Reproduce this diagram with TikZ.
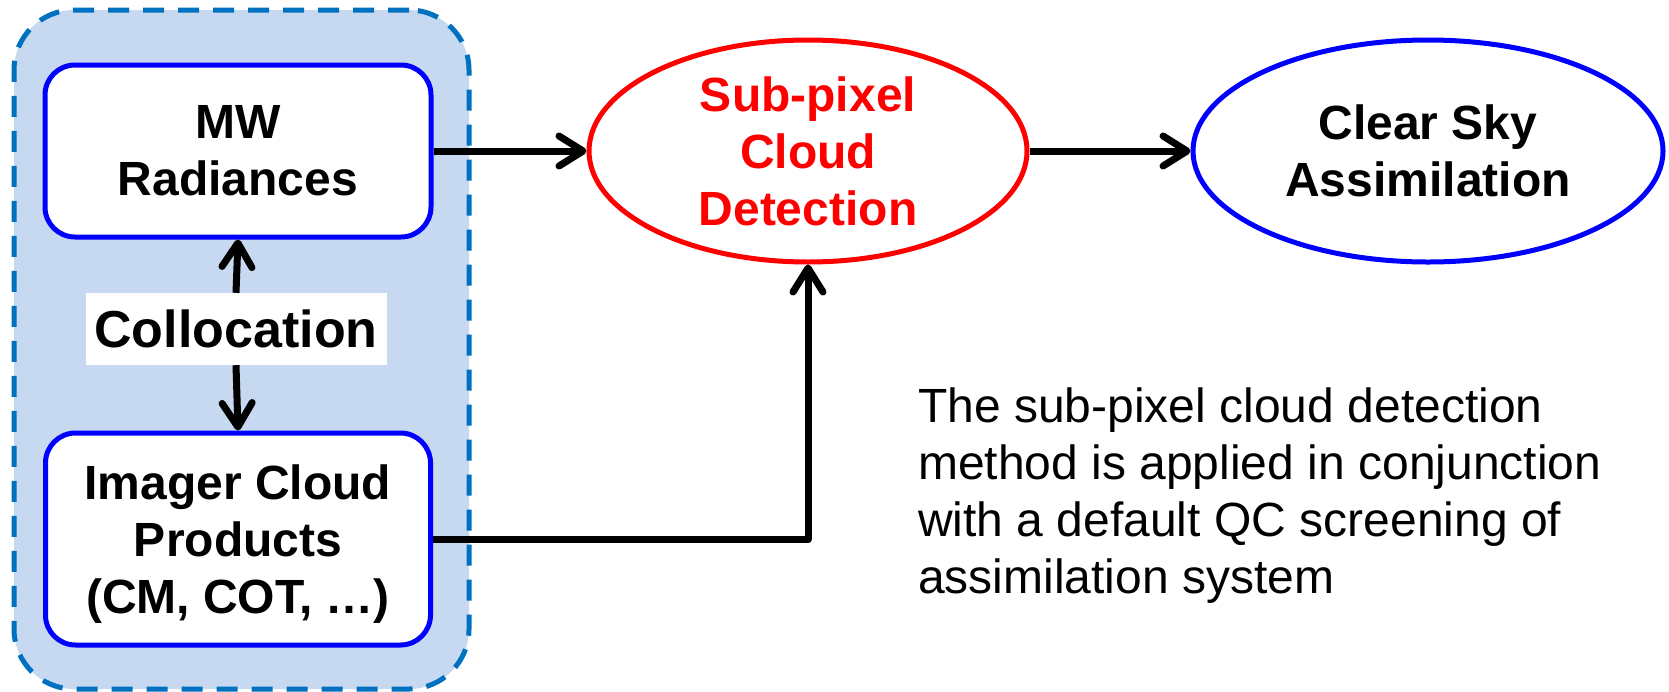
\documentclass[tikz,border=0pt]{standalone}
\usepackage{fontspec}
\setmainfont{Liberation Sans}
\usetikzlibrary{arrows.meta,shapes.geometric}
\definecolor{dashblue}{RGB}{0,112,192}
\definecolor{panelfill}{RGB}{198,217,240}
\begin{document}
\begin{tikzpicture}[x=1pt,y=-1pt,
  panel/.style={draw=dashblue, line width=5pt, dash pattern=on 21pt off 14pt,
    fill=panelfill, rounded corners=60pt, inner sep=0pt},
  srcbox/.style={draw=blue, line width=5pt, fill=white, rounded corners=30pt,
    inner sep=0pt, align=center, font=\bfseries\fontsize{48}{57}\selectfont},
  tag/.style={fill=white, inner sep=0pt, font=\bfseries\fontsize{52}{60}\selectfont},
  oval/.style={ellipse, line width=5pt, fill=white, inner sep=0pt, align=center,
    minimum height=222pt, font=\bfseries\fontsize{48}{57}\selectfont},
  conn/.style={line width=7pt, line join=round, black,
    -{Straight Barb[length=24pt,width=30pt,round]},
    preaction={draw=black, opacity=0.18, transform canvas={xshift=2pt,yshift=-3pt}}},
  note/.style={anchor=north west, align=left, inner sep=0pt,
    font=\fontsize{48}{57}\selectfont}
]
\useasboundingbox (0,0) rectangle (1669,691);

% grouping panel of the two inputs
\node[panel, minimum width=455pt, minimum height=679pt] (group) at (241.5,349.5) {};

% inputs
\node[srcbox, minimum width=386pt, minimum height=172pt] (mw) at (238,151) {MW\\Radiances};
\node[srcbox, minimum width=385pt, minimum height=212pt, text depth=0pt] (img) at (238,539)
  {Imager Cloud\\Products\\(CM, COT, \dots)};
\node[tag, minimum width=301pt, minimum height=72pt] (coll) at (236,329) {Collocation};

% processing steps
\node[oval, draw=red, text=red, minimum width=438pt] (sub) at (808,151) {Sub-pixel\\Cloud\\Detection};
\node[oval, draw=blue, minimum width=470pt] (clr) at (1428,151) {Clear Sky\\Assimilation};

% connectors
\draw[conn] (coll.north) -- (mw.south);
\draw[conn] (coll.south) -- (img.north);
\draw[conn] (mw.east) -- (sub.west);
\draw[conn] (sub.east) -- (clr.west);
\draw[conn] (img.east) -| (sub.south);

% explanatory note
\node[note] (txt) at (918,388) {The sub-pixel cloud detection\\method is applied in conjunction\\with a default QC screening of\\assimilation system};
\end{tikzpicture}
\end{document}
